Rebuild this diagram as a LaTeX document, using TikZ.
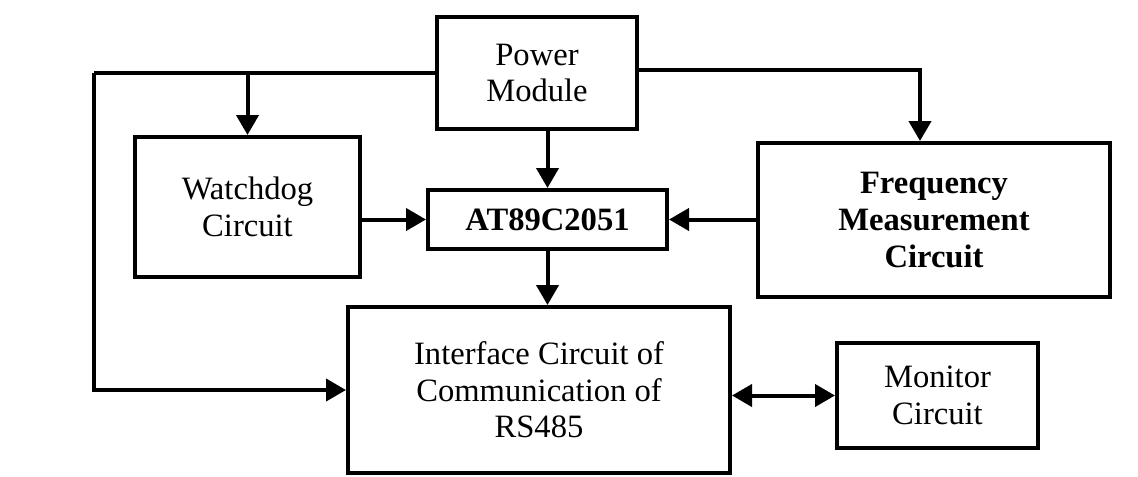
\documentclass[tikz,border=0pt]{standalone}
\usepackage{fontspec}
\setmainfont{Liberation Serif}
\usetikzlibrary{arrows.meta,calc}
\begin{document}
\begin{tikzpicture}[x=0.5pt,y=-0.5pt,
  blk/.style={draw,line width=2pt,rectangle,align=center,inner sep=0pt,font=\fontsize{16.3}{18.3}\selectfont},
  conn/.style={line width=2pt,-{Triangle[length=10pt,width=11pt]}},
  dconn/.style={line width=2pt,{Triangle[length=10pt,width=11pt]}-{Triangle[length=10pt,width=11pt]}}]
\useasboundingbox[fill=white] (0,0) rectangle (1138,476);
\node[blk,minimum width=100pt,minimum height=56pt] (power) at (537,73) {Power\\Module};
\node[blk,minimum width=112.5pt,minimum height=70pt] (watch) at (247.5,207) {Watchdog\\Circuit};
\node[blk,minimum width=119.5pt,minimum height=29.5pt,font=\fontsize{16.3}{18.3}\selectfont\bfseries] (at) at (547.5,219.5) {AT89C2051};
\node[blk,minimum width=176pt,minimum height=77pt,font=\fontsize{16.3}{18.3}\selectfont\bfseries] (freq) at (934,220) {Frequency\\Measurement\\Circuit};
\node[blk,minimum width=191pt,minimum height=83pt] (iface) at (539,390) {Interface Circuit of\\Communication of\\RS485};
\node[blk,minimum width=100.5pt,minimum height=52.5pt] (mon) at (937.5,395.5) {Monitor\\Circuit};
\coordinate (lc) at (94,73);
\coordinate (rc) at (920,70);
\draw[line width=2pt] (power.west) -- (lc);
\draw[conn] (lc) |- (iface.west);
\draw[conn] (watch.north |- power.west) -- (watch.north);
\draw[conn] (power.east |- rc) -- (rc) -- (rc |- freq.north);
\draw[conn] (at.north |- power.south) -- (at.north);
\draw[conn] (watch.east |- at.west) -- (at.west);
\draw[conn] (freq.west |- at.east) -- (at.east);
\draw[conn] (at.south) -- (at.south |- iface.north);
\draw[dconn] (iface.east |- mon.west) -- (mon.west);
\end{tikzpicture}
\end{document}
